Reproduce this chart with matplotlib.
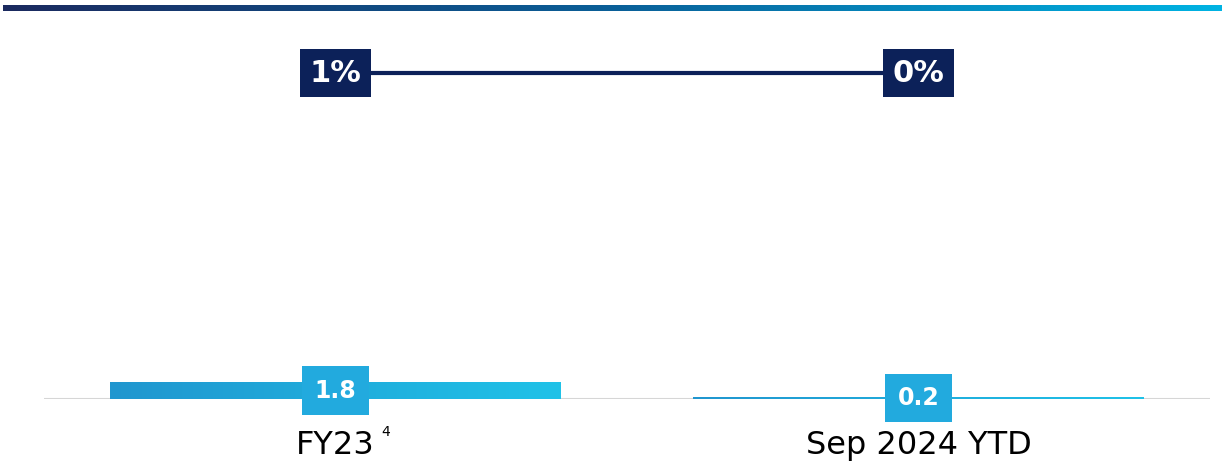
import numpy as np
import matplotlib.pyplot as plt
from matplotlib.colors import LinearSegmentedColormap

# Données
categories = ["FY23", "Sep 2024 YTD"]
footnotes = ["4", ""]
bar_values = [1.8, 0.2]
bar_labels = ["1.8", "0.2"]
line_values = [0.5, 0.5]
line_labels = ["1%", "0%"]

navy = "#0c2159"
blue_cmap = LinearSegmentedColormap.from_list("bleu", ["#2196cf", "#1fc2e8"])
top_cmap = LinearSegmentedColormap.from_list("haut", ["#1b2a5f", "#0a5f98", "#00b3e3"])

plt.rcParams['font.family'] = ['DejaVu Sans']

fig = plt.figure(figsize=(12.22, 4.70), dpi=100)

# Bande dégradée en haut
band = fig.add_axes([3 / 1222, 1 - 11 / 470, 1 - 3 / 1222, 6 / 470])
band.imshow(np.linspace(0, 1, 256)[None, :], aspect='auto', cmap=top_cmap)
band.axis('off')

ax = fig.add_axes([44 / 1222, 71 / 470, 1166 / 1222, 376 / 470])
x = np.arange(len(categories))
width = 0.772

bars = ax.bar(x, bar_values, width=width, color='none')
grad = np.linspace(0, 1, 256)[None, :]
for b in bars:
    x0, y0 = b.get_x(), b.get_y()
    im = ax.imshow(grad, extent=[x0, x0 + b.get_width(), y0, y0 + b.get_height()],
                   aspect='auto', cmap=blue_cmap, zorder=2)
    im.set_clip_path(b)

ax.set_xlim(-0.5, 1.5)
ax.set_ylim(0, 40)
ax.axhline(0, color='#d6d6d6', linewidth=1.5, zorder=1)

# Étiquettes des barres (au milieu de la barre)
for xi, v, lab in zip(x, bar_values, bar_labels):
    ax.text(xi, v / 2, lab, ha='center', va='center', fontsize=17, fontweight='bold',
            color='white', zorder=5,
            bbox=dict(boxstyle='square,pad=0.52', fc='#22aade', ec='none'))

ax.set_xticks(x)
ax.set_xticklabels(categories, fontsize=23)
ax.tick_params(axis='x', length=0, pad=22)
for s in ax.spines.values():
    s.set_visible(False)

for xi, cat, fn in zip(x, categories, footnotes):
    if fn:
        ax.annotate(fn, xy=(xi, 0), xytext=(50, -33), textcoords='offset pixels',
                    fontsize=10, ha='center', va='center', annotation_clip=False)

# Ligne sur axe secondaire
ax2 = ax.twinx()
ax2.plot(x, line_values, color=navy, linewidth=3, zorder=3)
ax2.set_ylim(0, 0.5 / 0.867)
ax2.axis('off')
for xi, v, lab in zip(x, line_values, line_labels):
    ax2.text(xi, v, lab, ha='center', va='center', fontsize=22, fontweight='bold',
             color='white', zorder=5,
             bbox=dict(boxstyle='square,pad=0.3', fc=navy, ec='none'))

ax.set_yticks([])
ax.tick_params(axis='y', left=False, labelleft=False)

fig.savefig("out.png", dpi=100)
